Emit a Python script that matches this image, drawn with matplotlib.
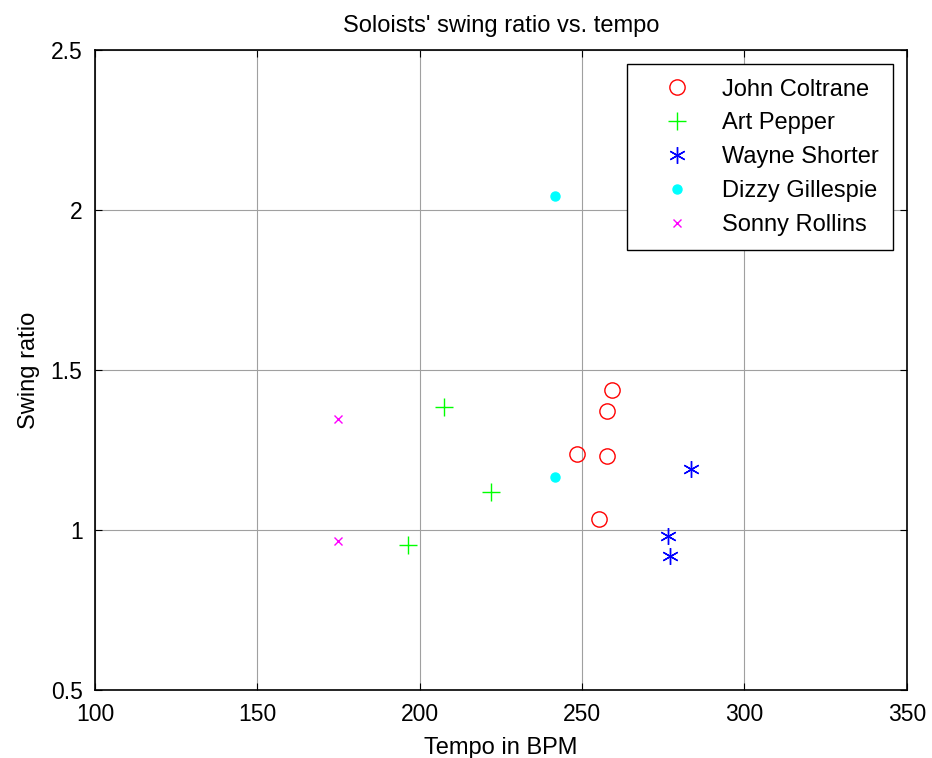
import matplotlib
matplotlib.use('Agg')
import matplotlib.pyplot as plt

plt.rcParams['font.family'] = ['Liberation Sans', 'DejaVu Sans']

# tempo (BPM) and swing ratio per soloist
coltrane_x = [259.3, 257.7, 248.5, 257.7, 255.3]
coltrane_y = [1.438, 1.373, 1.239, 1.233, 1.035]
pepper_x = [207.6, 222.0, 196.4]
pepper_y = [1.384, 1.120, 0.952]
shorter_x = [283.6, 276.6, 277.2]
shorter_y = [1.191, 0.983, 0.918]
gillespie_x = [241.7, 241.7]
gillespie_y = [2.045, 1.166]
rollins_x = [174.8, 174.8]
rollins_y = [1.347, 0.967]

fig = plt.figure(figsize=(9.32, 7.58), dpi=100)
ax = fig.add_axes([0.102, 0.0897, 0.871, 0.844])

ax.plot(coltrane_x, coltrane_y, 'o', mfc='none', mec='red', ms=11, mew=1, ls='none', label='John Coltrane')
ax.plot(pepper_x, pepper_y, '+', color='#00ff00', ms=13, mew=1, ls='none', label='Art Pepper')
ax.plot(shorter_x, shorter_y, marker=(6, 2, 0), color='blue', ms=12, mew=1, ls='none', label='Wayne Shorter')
ax.plot(gillespie_x, gillespie_y, 'o', color='cyan', ms=6.5, ls='none', label='Dizzy Gillespie')
ax.plot(rollins_x, rollins_y, 'x', color='magenta', ms=6, mew=1, ls='none', label='Sonny Rollins')

ax.set_xlim(100, 350)
ax.set_ylim(0.5, 2.5)
ax.set_xticks([100, 150, 200, 250, 300, 350])
ax.set_yticks([0.5, 1, 1.5, 2, 2.5])
ax.set_yticklabels(['0.5', '1', '1.5', '2', '2.5'])
ax.grid(True, color='#a0a0a0', lw=0.8)
ax.tick_params(direction='in', top=True, right=True, labelsize=16.5, length=5, pad=9)
for s in ax.spines.values():
    s.set_linewidth(1.2)

ax.set_title("Soloists' swing ratio vs. tempo", fontsize=17, pad=13)
ax.set_xlabel('Tempo in BPM', fontsize=17, labelpad=8)
ax.set_ylabel('Swing ratio', fontsize=17, labelpad=8)

leg = ax.legend(loc='upper right', fontsize=17, fancybox=False, edgecolor='black',
                framealpha=1, borderaxespad=0.6, handlelength=3.0, labelspacing=0.5,
                handletextpad=0.4, borderpad=0.6)
leg.get_frame().set_linewidth(1.0)

fig.savefig('out.png', dpi=100)
